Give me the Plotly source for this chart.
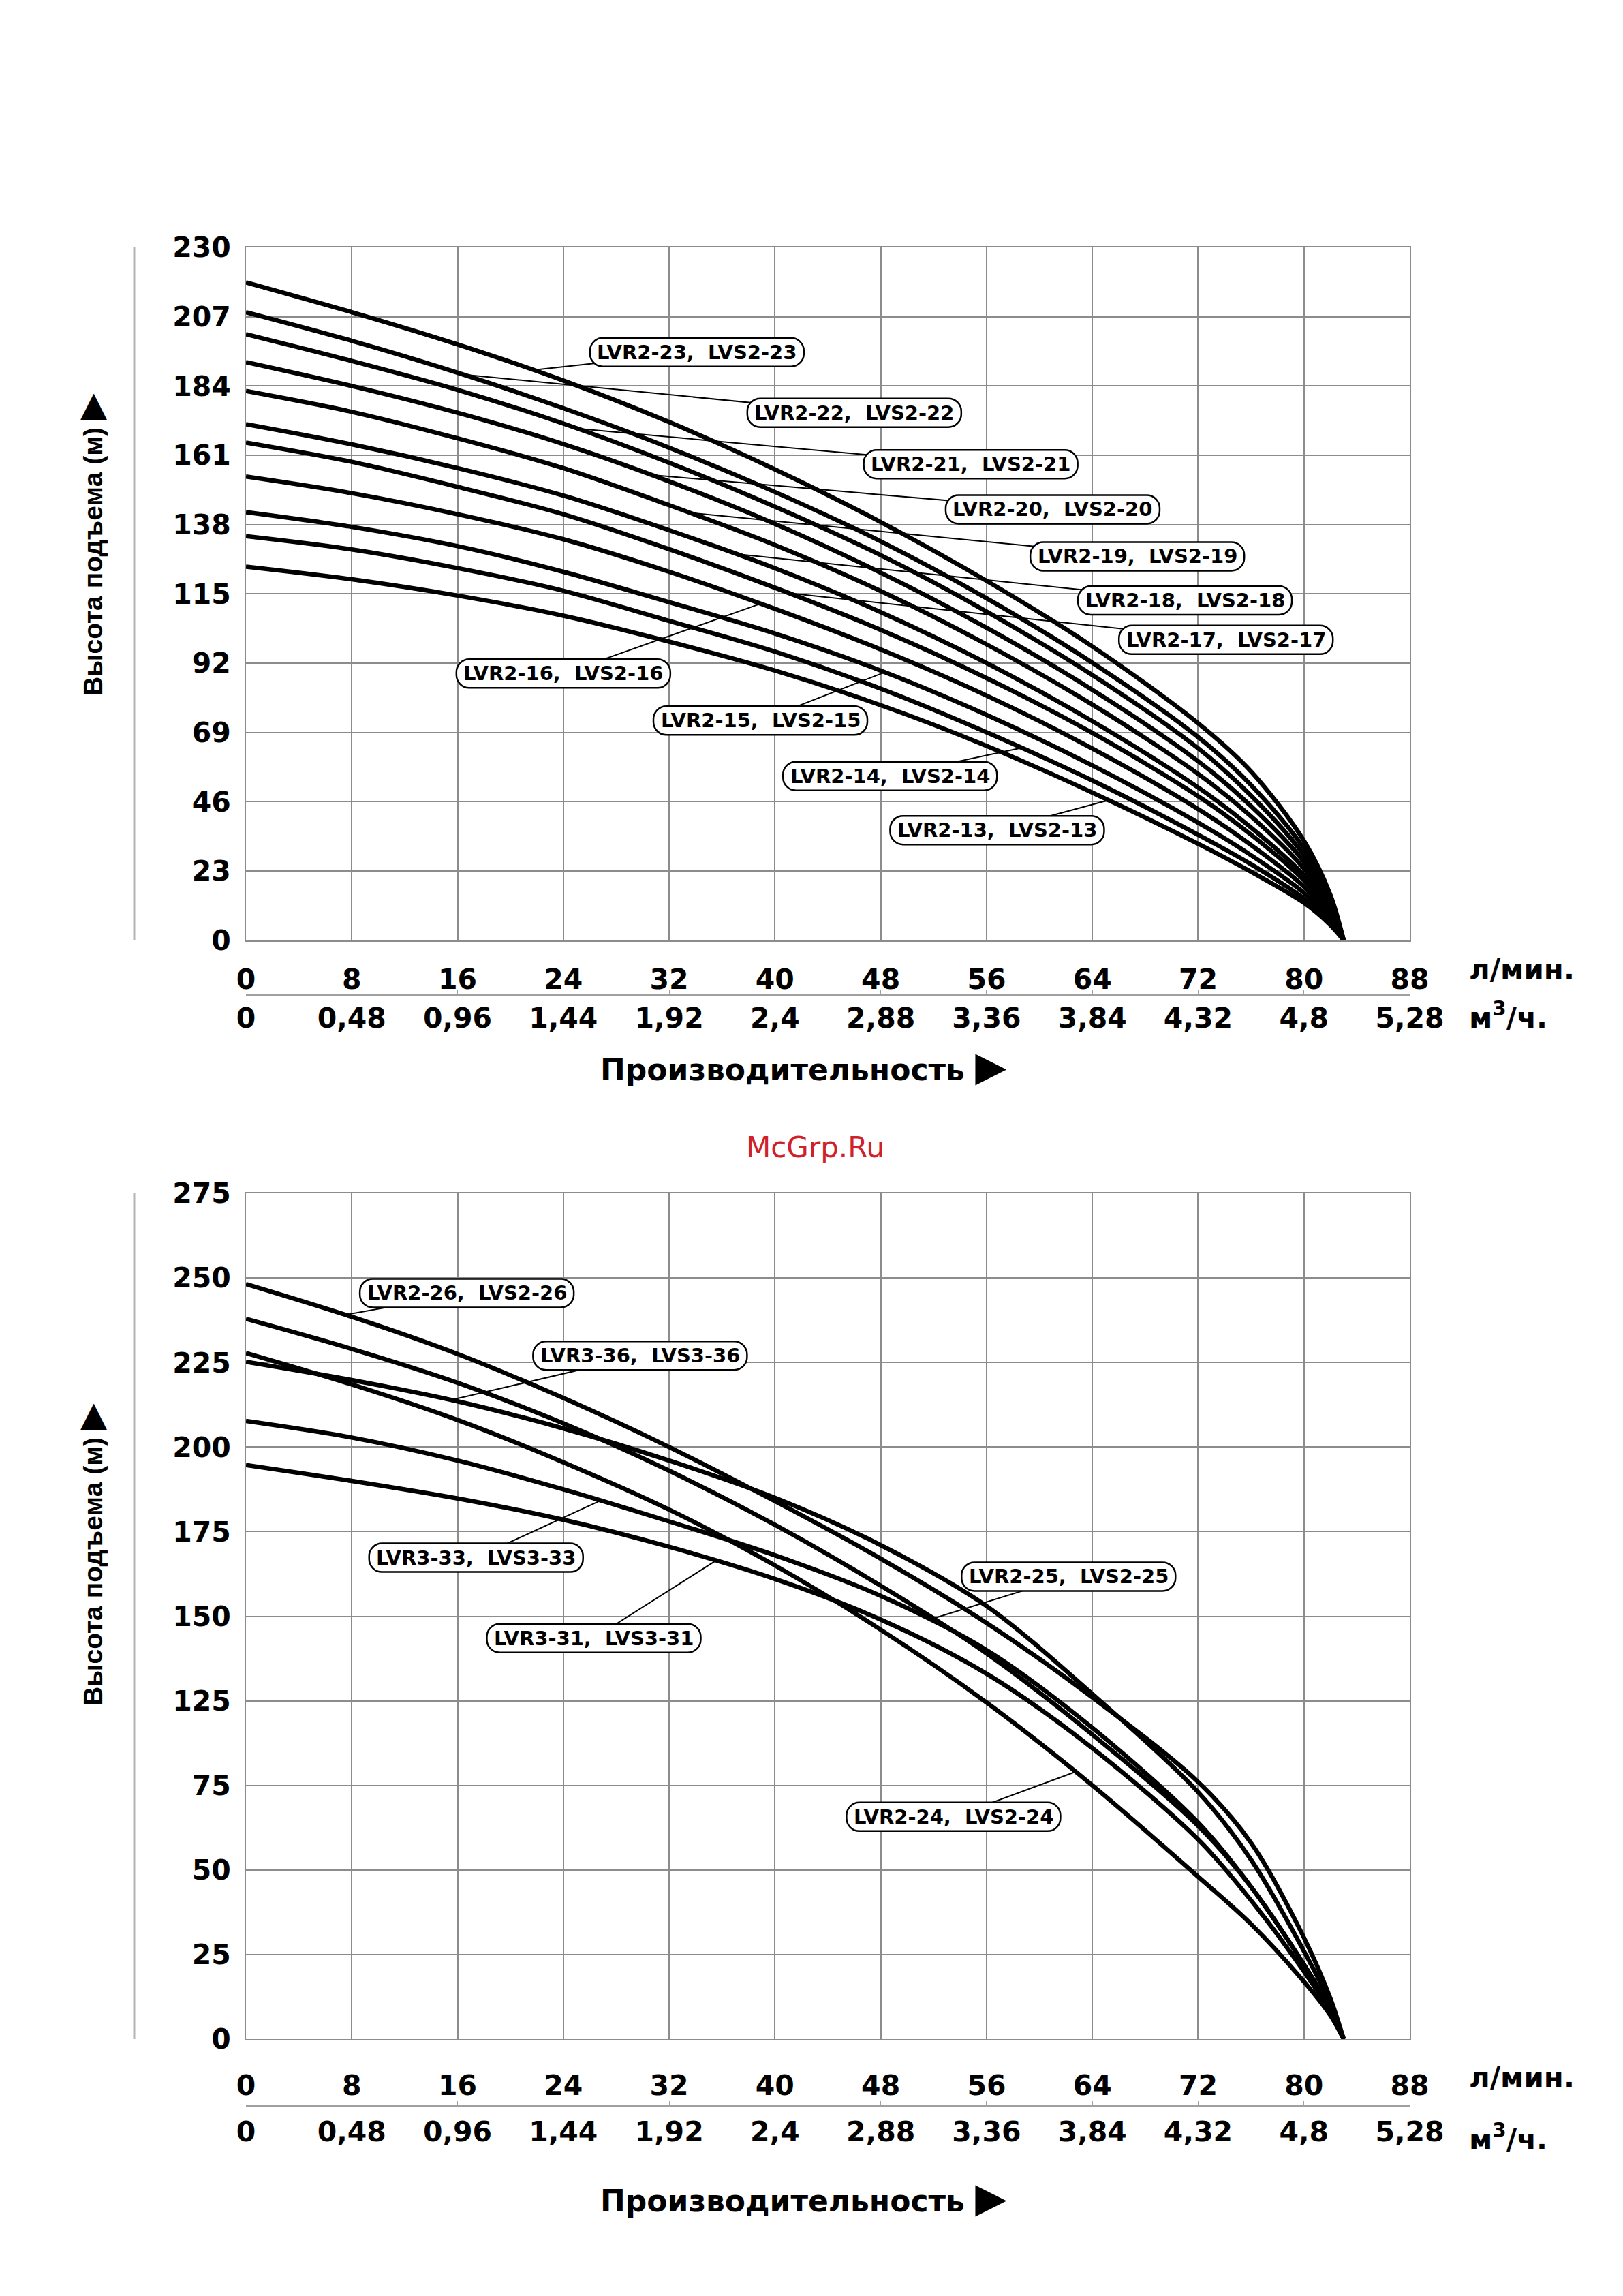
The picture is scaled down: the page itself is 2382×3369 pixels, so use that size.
import numpy as np
import plotly.graph_objects as go

# ---------------- data ----------------
flow_lpm = [0, 8, 16, 24, 32, 40, 48, 56, 64, 72, 76, 80, 82, 83]

tick_lpm = [0, 8, 16, 24, 32, 40, 48, 56, 64, 72, 80, 88]
tick_lpm_text = ["0", "8", "16", "24", "32", "40", "48", "56", "64", "72", "80", "88"]
tick_m3h_text = ["0", "0,48", "0,96", "1,44", "1,92", "2,4", "2,88", "3,36", "3,84", "4,32", "4,8", "5,28"]

top_yticks = [0, 23, 46, 69, 92, 115, 138, 161, 184, 207, 230]
# lower chart: grid lines are evenly spaced but the printed labels skip "100"
bottom_yticks = [25, 50, 75, 100, 125, 150, 175, 200, 225, 250, 275]
bottom_yticktext = ["0", "25", "50", "75", "125", "150", "175", "200", "225", "250", "275"]

# upper chart  (head, m)
head_lvr2_23 = [218.4, 208.5, 197.8, 185.8, 172.0, 156.3, 138.8, 119.3, 97.5, 72.0, 56.0, 33.0, 15.0, 0]
head_lvr2_22 = [208.5, 199.0, 188.4, 176.6, 163.5, 148.8, 132.4, 113.5, 92.1, 67.4, 51.5, 30.5, 13.8, 0]
head_lvr2_21 = [201.2, 192.3, 182.7, 171.5, 158.5, 143.9, 127.8, 109.1, 88.0, 63.7, 48.0, 28.2, 12.7, 0]
head_lvr2_20 = [191.9, 184.0, 175.1, 164.7, 152.3, 138.2, 122.0, 103.7, 83.1, 59.4, 44.5, 26.0, 11.6, 0]
head_lvr2_19 = [182.3, 175.4, 166.6, 156.7, 144.4, 131.2, 115.9, 98.2, 78.2, 55.2, 41.1, 23.8, 10.5, 0]
head_lvr2_18 = [171.3, 164.6, 156.7, 147.6, 136.1, 123.5, 108.9, 92.0, 72.7, 50.7, 37.4, 21.5, 9.4, 0]
head_lvr2_17 = [165.2, 158.8, 150.5, 141.4, 129.8, 117.0, 103.0, 87.0, 68.8, 47.8, 35.0, 19.9, 8.6, 0]
head_lvr2_16 = [153.9, 148.4, 141.4, 133.1, 122.3, 110.0, 96.5, 81.2, 63.6, 43.5, 31.6, 17.8, 7.6, 0]
head_lvr2_15 = [142.1, 137.2, 130.8, 122.3, 112.2, 101.8, 89.5, 74.8, 58.0, 39.0, 28.2, 15.7, 6.6, 0]
head_lvr2_14 = [134.1, 129.7, 123.5, 116.0, 106.0, 95.8, 83.5, 69.0, 53.0, 35.0, 25.2, 13.8, 5.7, 0]
head_lvr2_13 = [124.0, 119.8, 114.4, 107.7, 99.1, 89.5, 78.0, 64.5, 49.0, 32.0, 22.7, 12.4, 5.0, 0]

# lower chart (in grid units of the lower axis)
head_lvr2_26 = [248.2, 238.5, 227.5, 214.5, 200.0, 184.0, 167.0, 148.0, 126.0, 101.0, 83.0, 55.0, 37.0, 25]
head_lvr2_25 = [237.9, 229.0, 219.0, 207.0, 193.0, 177.0, 159.0, 139.0, 115.0, 88.0, 70.0, 47.0, 34.0, 25]
head_lvr2_24 = [227.8, 218.5, 208.0, 195.5, 181.5, 165.0, 146.0, 124.5, 100.0, 73.0, 59.0, 42.0, 32.0, 25]
head_lvr3_36 = [225.2, 219.8, 213.5, 205.5, 196.0, 185.0, 171.0, 153.0, 127.0, 98.0, 78.0, 51.0, 35.5, 25]
head_lvr3_33 = [207.7, 202.8, 196.0, 187.5, 178.0, 168.0, 156.0, 140.0, 117.0, 89.0, 70.0, 47.0, 34.0, 25]
head_lvr3_31 = [194.7, 190.0, 184.8, 178.5, 170.5, 161.0, 149.0, 133.0, 111.0, 84.0, 66.0, 45.0, 33.0, 25]

top_series = [
    ("LVR2-23, LVS2-23", head_lvr2_23), ("LVR2-22, LVS2-22", head_lvr2_22),
    ("LVR2-21, LVS2-21", head_lvr2_21), ("LVR2-20, LVS2-20", head_lvr2_20),
    ("LVR2-19, LVS2-19", head_lvr2_19), ("LVR2-18, LVS2-18", head_lvr2_18),
    ("LVR2-17, LVS2-17", head_lvr2_17), ("LVR2-16, LVS2-16", head_lvr2_16),
    ("LVR2-15, LVS2-15", head_lvr2_15), ("LVR2-14, LVS2-14", head_lvr2_14),
    ("LVR2-13, LVS2-13", head_lvr2_13),
]
bottom_series = [
    ("LVR2-26, LVS2-26", head_lvr2_26), ("LVR2-25, LVS2-25", head_lvr2_25),
    ("LVR2-24, LVS2-24", head_lvr2_24), ("LVR3-36, LVS3-36", head_lvr3_36),
    ("LVR3-33, LVS3-33", head_lvr3_33), ("LVR3-31, LVS3-31", head_lvr3_31),
]

# ---------------- label placement (layout) ----------------
# name: (label centre flow, label centre head, leader tip flow)
top_labels = {
    "LVR2-23, LVS2-23": (34.1, 195.2, 21.7),
    "LVR2-22, LVS2-22": (46.0, 175.1, 16.4),
    "LVR2-21, LVS2-21": (54.8, 158.0, 25.0),
    "LVR2-20, LVS2-20": (61.0, 143.0, 30.6),
    "LVR2-19, LVS2-19": (67.4, 127.4, 33.5),
    "LVR2-18, LVS2-18": (71.0, 112.8, 37.0),
    "LVR2-17, LVS2-17": (74.1, 99.7, 41.0),
    "LVR2-16, LVS2-16": (24.0, 88.5, 38.9),
    "LVR2-15, LVS2-15": (38.9, 72.9, 48.3),
    "LVR2-14, LVS2-14": (48.7, 54.5, 58.6),
    "LVR2-13, LVS2-13": (56.8, 36.5, 65.2),
}
bottom_labels = {
    "LVR2-26, LVS2-26": (16.7, 245.5, 7.5),
    "LVR3-36, LVS3-36": (29.8, 227.0, 15.5),
    "LVR3-33, LVS3-33": (17.4, 167.3, 26.8),
    "LVR3-31, LVS3-31": (26.3, 143.5, 35.5),
    "LVR2-25, LVS2-25": (62.2, 161.7, 51.9),
    "LVR2-24, LVS2-24": (53.5, 90.7, 62.7),
}

W, H = 2382, 3369
OFF = 8  # page margin of the html body


def px(X):
    return (X - OFF) / W


def py(Y):
    return 1 - (Y - OFF) / H


XD = [px(361), px(2069)]
TOP_DOM = [py(1379.5), py(363)]
BOT_DOM = [py(2992), py(1751)]

FONT = "DejaVu Sans"
NARROW = "Liberation Sans Narrow, Liberation Sans, Arial"
GRID = "#8c8c8c"

fig = go.Figure()
for name, vals in top_series:
    fig.add_trace(go.Scatter(x=flow_lpm, y=vals, mode="lines", name=name, showlegend=False,
                             line=dict(color="black", width=6.5, shape="spline", smoothing=0.9),
                             xaxis="x", yaxis="y", hoverinfo="skip"))
for name, vals in bottom_series:
    fig.add_trace(go.Scatter(x=flow_lpm, y=vals, mode="lines", name=name, showlegend=False,
                             line=dict(color="black", width=6.5, shape="spline", smoothing=0.9),
                             xaxis="x2", yaxis="y2", hoverinfo="skip"))
# invisible carriers so the secondary (m3/h) axes are drawn
fig.add_trace(go.Scatter(x=[0, 88], y=[0, 0], xaxis="x3", yaxis="y", mode="markers",
                         marker=dict(opacity=0), showlegend=False, hoverinfo="skip"))
fig.add_trace(go.Scatter(x=[0, 88], y=[25, 25], xaxis="x4", yaxis="y2", mode="markers",
                         marker=dict(opacity=0), showlegend=False, hoverinfo="skip"))


def pill(w, h, r):
    k = 0.5523 * r
    hw, hh = w / 2, h / 2
    return (f"M {-hw + r},{-hh} L {hw - r},{-hh} "
            f"C {hw - r + k},{-hh} {hw},{-hh + r - k} {hw},{-hh + r} "
            f"L {hw},{hh - r} C {hw},{hh - r + k} {hw - r + k},{hh} {hw - r},{hh} "
            f"L {-hw + r},{hh} C {-hw + r - k},{hh} {-hw},{hh - r + k} {-hw},{hh - r} "
            f"L {-hw},{-hh + r} C {-hw},{-hh + r - k} {-hw + r - k},{-hh} {-hw + r},{-hh} Z")


shapes_lines, shapes_boxes, annotations = [], [], []


def add_labels(series, labels, xr, yr):
    lookup = dict(series)
    for name, (cx, cy, tq) in labels.items():
        ty = float(np.interp(tq, flow_lpm, lookup[name]))
        shapes_lines.append(dict(type="line", xref=xr, yref=yr, x0=cx, y0=cy, x1=tq, y1=ty,
                                 line=dict(color="black", width=2), layer="above"))
        shapes_boxes.append(dict(type="path", xref=xr, yref=yr, xsizemode="pixel", ysizemode="pixel",
                                 xanchor=cx, yanchor=cy, path=pill(314, 42, 19),
                                 fillcolor="white", line=dict(color="black", width=2.5), layer="above"))
        annotations.append(dict(x=cx, y=cy, xref=xr, yref=yr, showarrow=False,
                                text=name.replace(", ", ",\u00a0 "),
                                font=dict(family=FONT, size=29, color="black", weight="bold")))


add_labels(top_series, top_labels, "x", "y")
add_labels(bottom_series, bottom_labels, "x2", "y2")

# left thin grey rules
for y0, y1 in [(363, 1379.5), (1751, 2992)]:
    shapes_lines.append(dict(type="line", xref="paper", yref="paper", x0=px(197), x1=px(197),
                             y0=py(y1), y1=py(y0), line=dict(color="#b4b4b4", width=3)))


def txt(x, y, text, size, anchor="center", angle=0, color="black", weight="bold", family=FONT):
    annotations.append(dict(x=px(x), y=py(y), xref="paper", yref="paper", showarrow=False,
                            text=text, textangle=angle, xanchor=anchor, yanchor="middle",
                            font=dict(family=family, size=size, color=color, weight=weight)))


for (yl1, yl2, yt, ytitle) in [(1422, 1490, 1564, 799), (3048, 3136, 3224, 2281)]:
    txt(2154, yl1, "л/мин.", 42, anchor="left")
    txt(2154, yl2, "м<sup>3</sup>/ч.", 42, anchor="left")
    txt(1179, yt, "Производительность <span style='font-size:60px'>▶</span>", 44)
    txt(133, ytitle, "Высота подъема (м) <span style='font-size:48px'>▶</span>", 39,
        angle=-90, family=NARROW)

txt(1196, 1684, "McGrp.Ru", 42, color="#d0202a", weight="normal")

tickfont = dict(family=FONT, size=41, color="black", weight="bold")
xcommon = dict(range=[0, 88], tickvals=tick_lpm, ticktext=tick_lpm_text, showgrid=True,
               gridcolor=GRID, gridwidth=2, zeroline=False, showline=True, linecolor=GRID,
               linewidth=2, mirror=True, ticks="", tickfont=tickfont,
               domain=XD, fixedrange=True, automargin=False)
x2common = dict(range=[0, 88], tickvals=tick_lpm, ticktext=tick_m3h_text, showgrid=False,
                zeroline=False, showline=True, linecolor="#a0a0a0", linewidth=2, ticks="inside",
                ticklen=6, tickcolor="#a0a0a0", tickfont=tickfont, anchor="free", side="bottom",
                domain=XD, automargin=False)
ycommon = dict(showgrid=True, gridcolor=GRID, gridwidth=2, zeroline=False, showline=True,
               linecolor=GRID, linewidth=2, mirror=True, ticks="", tickfont=tickfont,
               ticklabelstandoff=12, automargin=False)

fig.update_layout(
    width=W, height=H, margin=dict(l=0, r=0, t=0, b=0, autoexpand=False),
    paper_bgcolor="white", plot_bgcolor="white",
    xaxis=dict(**xcommon, anchor="y", ticklabelstandoff=20),
    yaxis=dict(**ycommon, domain=TOP_DOM, range=[0, 230], tickvals=top_yticks,
               ticktext=[str(v) for v in top_yticks], anchor="x"),
    xaxis2=dict(**xcommon, anchor="y2", ticklabelstandoff=31),
    yaxis2=dict(**ycommon, domain=BOT_DOM, range=[25, 275], tickvals=bottom_yticks,
                ticktext=bottom_yticktext, anchor="x2"),
    xaxis3=dict(**x2common, overlaying="x", position=py(1460), ticklabelstandoff=-2),
    xaxis4=dict(**x2common, overlaying="x2", position=py(3090), ticklabelstandoff=2),
    shapes=shapes_lines + shapes_boxes,
    annotations=annotations,
)

fig.write_html("out.html")
